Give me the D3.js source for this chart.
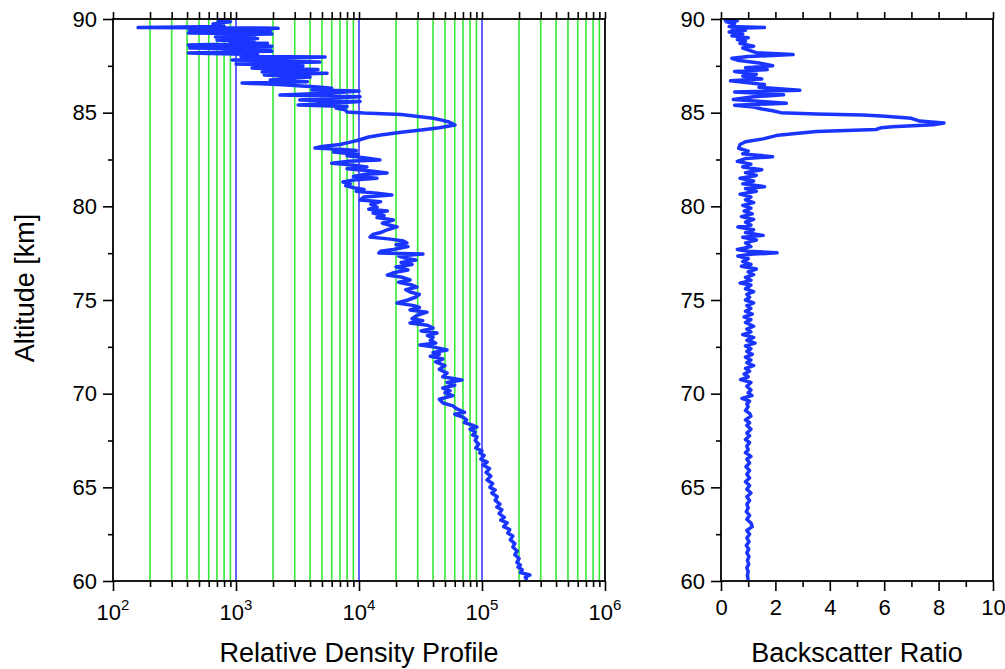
<!DOCTYPE html>
<html>
<head>
<meta charset="utf-8">
<script src="https://cdn.jsdelivr.net/npm/d3@7"></script>
<style>
  body { margin: 0; background: #fff; }
  text { font-family: "Liberation Sans", Arial, sans-serif; fill: #000; }
</style>
</head>
<body>
<svg id="svg1" width="1005" height="669"></svg>
<script>
// density profile (altitude in km, relative density)
const densityAlt = [89.95, 89.85, 89.73, 89.6, 89.54, 89.52, 89.5, 89.45, 89.41, 89.36, 89.32, 89.25, 89.2, 89.15, 89.08, 89.04, 88.96, 88.88, 88.8, 88.77, 88.7, 88.61, 88.55, 88.45, 88.4, 88.35, 88.28, 88.19, 88.1, 88.0, 87.97, 87.9, 87.81, 87.7, 87.6, 87.5, 87.38, 87.3, 87.17, 87.1, 87.01, 86.9, 86.74, 86.65, 86.58, 86.5, 86.37, 86.3, 86.21, 86.15, 86.05, 85.94, 85.85, 85.75, 85.68, 85.6, 85.5, 85.41, 85.33, 85.25, 85.15, 85.04, 84.98, 84.9, 84.82, 84.7, 84.6, 84.5, 84.34, 84.2, 84.07, 83.95, 83.81, 83.7, 83.54, 83.43, 83.3, 83.2, 83.11, 83.05, 82.98, 82.9, 82.85, 82.78, 82.7, 82.6, 82.47, 82.4, 82.3, 82.2, 82.1, 82.0, 81.9, 81.78, 81.7, 81.6, 81.5, 81.41, 81.3, 81.2, 81.1, 80.98, 80.9, 80.8, 80.7, 80.6, 80.5, 80.34, 80.25, 80.1, 79.96, 79.85, 79.75, 79.64, 79.5, 79.4, 79.27, 79.1, 78.9, 78.75, 78.6, 78.5, 78.36, 78.25, 78.15, 78.04, 77.95, 77.85, 77.7, 77.6, 77.51, 77.45, 77.35, 77.2, 77.13, 77.0, 76.9, 76.76, 76.6, 76.45, 76.33, 76.2, 76.07, 75.95, 75.8, 75.69, 75.55, 75.43, 75.3, 75.16, 75.0, 74.84, 74.7, 74.6, 74.47, 74.35, 74.2, 74.0, 73.9, 73.77, 73.65, 73.5, 73.35, 73.24, 73.1, 73.0, 72.85, 72.7, 72.6, 72.5, 72.33, 72.2, 72.1, 72.0, 71.85, 71.7, 71.64, 71.5, 71.3, 71.1, 70.9, 70.73, 70.6, 70.45, 70.3, 70.15, 70.04, 69.9, 69.7, 69.5, 69.35, 69.2, 69.0, 68.9, 68.75, 68.6, 68.45, 68.3, 68.22, 68.1, 67.95, 67.8, 67.69, 67.5, 67.3, 67.1, 66.95, 66.83, 66.7, 66.5, 66.35, 66.19, 66.0, 65.8, 65.6, 65.39, 65.2, 65.0, 64.86, 64.7, 64.5, 64.3, 64.1, 63.95, 63.8, 63.6, 63.4, 63.25, 63.1, 62.9, 62.75, 62.56, 62.4, 62.2, 62.0, 61.82, 61.6, 61.4, 61.2, 61.0, 60.85, 60.75, 60.6, 60.45, 60.32, 60.2, 60.05];
const densityVal = [700, 900, 650, 800, 160, 1500, 2200, 1200, 420, 1900, 1000, 410, 1960, 800, 1400, 680, 1500, 700, 1400, 900, 1800, 410, 1960, 420, 1900, 800, 1960, 410, 1500, 1100, 5300, 2500, 930, 4800, 1000, 3500, 1350, 4640, 1630, 5500, 1700, 4000, 1900, 3800, 1120, 2200, 4640, 6000, 4150, 10000, 6000, 2280, 10200, 5000, 3300, 10200, 6000, 3200, 8000, 6500, 7700, 8000, 11000, 22000, 28000, 40000, 47000, 54000, 60300, 45000, 32000, 22000, 15000, 12000, 10000, 8500, 7000, 5000, 4390, 7000, 9500, 6200, 7500, 9800, 8000, 11000, 14800, 8000, 6000, 9000, 11600, 8000, 12000, 16900, 11000, 9000, 14000, 9000, 7400, 8500, 7800, 9300, 11000, 9500, 14000, 18500, 11000, 10200, 15000, 12500, 14000, 12000, 17000, 13000, 16000, 14000, 19000, 15500, 20400, 17000, 15000, 13000, 12300, 18000, 23000, 24500, 20000, 25000, 19000, 15000, 14500, 33100, 21000, 25000, 29000, 22000, 27000, 20000, 25000, 19000, 17000, 23000, 26000, 21000, 27000, 29600, 24000, 26000, 31000, 29000, 25000, 20400, 28000, 31000, 26000, 35700, 30000, 27000, 33000, 26000, 36000, 40000, 32000, 43100, 36000, 40000, 38000, 42000, 31300, 40000, 51900, 40000, 45000, 38000, 48000, 42000, 44000, 50000, 45000, 52000, 48000, 68700, 52000, 60000, 48000, 55000, 50000, 58000, 45000, 48200, 58000, 62000, 72000, 60000, 70000, 75000, 72000, 85000, 91000, 80000, 88000, 84000, 91000, 88000, 94000, 89000, 100000, 96000, 104000, 98000, 110000, 102000, 115000, 108000, 118000, 110000, 122000, 116000, 128000, 120000, 133000, 128000, 140000, 132000, 145000, 138000, 152000, 142000, 160000, 150000, 168000, 162000, 178000, 170000, 185000, 178000, 193000, 185000, 200000, 192000, 205000, 196000, 212000, 205000, 245000, 225000, 232000];

// backscatter ratio
const ratioAlt = [89.95, 89.9, 89.85, 89.75, 89.6, 89.55, 89.5, 89.4, 89.3, 89.2, 89.1, 89.0, 88.9, 88.8, 88.7, 88.55, 88.45, 88.3, 88.2, 88.1, 88.0, 87.9, 87.8, 87.65, 87.5, 87.4, 87.3, 87.2, 87.05, 86.95, 86.8, 86.7, 86.6, 86.5, 86.35, 86.2, 86.1, 86.0, 85.95, 85.85, 85.7, 85.6, 85.5, 85.4, 85.3, 85.2, 85.1, 85.0, 84.93, 84.88, 84.82, 84.7, 84.55, 84.45, 84.35, 84.25, 84.2, 84.1, 84.0, 83.8, 83.6, 83.45, 83.3, 83.1, 82.95, 82.8, 82.65, 82.55, 82.4, 82.25, 82.1, 81.95, 81.8, 81.65, 81.5, 81.35, 81.2, 81.05, 80.95, 80.8, 80.65, 80.5, 80.35, 80.2, 80.05, 79.9, 79.75, 79.6, 79.45, 79.3, 79.15, 79.0, 78.9, 78.75, 78.6, 78.45, 78.35, 78.2, 78.05, 77.85, 77.7, 77.6, 77.52, 77.45, 77.35, 77.2, 77.05, 76.9, 76.8, 76.65, 76.5, 76.35, 76.2, 76.05, 75.9, 75.8, 75.6, 75.45, 75.3, 75.15, 75.0, 74.85, 74.7, 74.55, 74.4, 74.25, 74.1, 73.95, 73.8, 73.6, 73.45, 73.3, 73.15, 73.0, 72.85, 72.7, 72.55, 72.4, 72.25, 72.1, 71.95, 71.8, 71.65, 71.5, 71.35, 71.2, 71.05, 70.9, 70.75, 70.6, 70.4, 70.2, 70.05, 69.9, 69.75, 69.6, 69.45, 69.3, 69.1, 68.95, 68.8, 68.6, 68.45, 68.3, 68.1, 67.9, 67.75, 67.55, 67.4, 67.2, 67.0, 66.85, 66.65, 66.5, 66.3, 66.1, 65.9, 65.7, 65.5, 65.3, 65.1, 64.9, 64.7, 64.5, 64.3, 64.1, 63.9, 63.7, 63.5, 63.3, 63.1, 62.9, 62.7, 62.5, 62.3, 62.1, 61.9, 61.7, 61.5, 61.3, 61.1, 60.9, 60.7, 60.5, 60.3, 60.05];
const ratioVal = [0.1, 0.6, 0.2, 0.5, 0.3, 1.6, 0.4, 0.9, 0.3, 0.8, 0.4, 1.0, 0.6, 0.9, 0.7, 1.2, 0.8, 1.1, 1.3, 2.65, 1.0, 0.4, 0.6, 1.4, 1.9, 0.9, 1.7, 0.5, 1.3, 0.8, 1.5, 0.35, 1.0, 1.6, 1.4, 2.9, 0.5, 1.8, 2.3, 1.2, 0.45, 1.5, 2.4, 0.5, 1.2, 1.5, 1.9, 2.2, 3.5, 5.2, 5.9, 7.0, 7.3, 8.2, 7.8, 6.3, 5.9, 5.7, 3.5, 2.1, 1.55, 0.9, 0.7, 0.65, 1.0, 0.8, 1.9, 0.9, 0.6, 1.1, 0.8, 1.5, 0.9, 1.3, 0.7, 1.2, 0.8, 1.6, 0.9, 1.3, 0.7, 1.1, 0.9, 1.2, 0.8, 1.1, 0.85, 1.15, 0.75, 1.2, 0.9, 1.1, 0.62, 1.2, 0.9, 1.55, 0.8, 1.3, 0.9, 1.1, 0.6, 1.0, 2.06, 1.2, 0.62, 1.0, 0.8, 1.1, 0.75, 1.3, 1.0, 1.2, 0.9, 1.1, 0.7, 1.1, 0.9, 1.2, 0.95, 1.05, 0.9, 1.2, 0.95, 1.1, 0.9, 1.15, 0.85, 1.1, 0.9, 1.2, 0.95, 1.1, 0.8, 1.2, 0.95, 1.25, 0.9, 1.1, 0.95, 1.15, 0.9, 1.1, 0.95, 1.2, 0.9, 1.05, 0.85, 1.0, 0.72, 1.1, 0.95, 1.1, 1.0, 1.14, 0.77, 1.05, 0.95, 1.0, 0.9, 1.05, 1.1, 0.9, 1.05, 0.95, 1.1, 0.95, 1.05, 0.9, 1.05, 0.95, 1.0, 0.9, 1.1, 0.95, 1.05, 0.92, 1.05, 0.95, 1.05, 0.9, 1.05, 0.95, 1.1, 0.95, 1.05, 0.95, 1.0, 0.93, 1.05, 0.95, 1.1, 1.15, 0.95, 1.05, 0.95, 1.03, 0.93, 1.02, 0.95, 1.03, 0.97, 1.02, 0.95, 1.0, 0.97, 1.0];

const altTicks = [60, 65, 70, 75, 80, 85, 90];
const altMinor = [62.5, 67.5, 72.5, 77.5, 82.5, 87.5];
const decades = [2, 3, 4, 5, 6];
const ratioTicks = [0, 2, 4, 6, 8, 10];
const ratioMinor = [1, 3, 5, 7, 9];

const svg1 = d3.select('#svg1');
const plotTop = 19, plotBottom = 581;
const lineColour = '#1a35ff';
const fontTick = 22, fontTitle = 27;

const yScale = d3.scaleLinear().domain([60, 90]).range([plotBottom, plotTop]);
const xDen = d3.scaleLog().domain([1e2, 1e6]).range([113, 605]);
const xRat = d3.scaleLinear().domain([0, 10]).range([721, 993]);

// minor log ticks 2..9 of each decade
const logMinor = [];
decades.slice(0, -1).forEach(e => {
  for (let m = 2; m <= 9; m++) logMinor.push(m * Math.pow(10, e));
});
const logMajor = decades.map(e => Math.pow(10, e));

// ---- left panel ----
const gL = svg1.append('g');

gL.selectAll('.gminor').data(logMinor)
  .enter().append('line')
    .attr('x1', d => xDen(d)).attr('x2', d => xDen(d))
    .attr('y1', plotTop).attr('y2', plotBottom)
    .attr('stroke', '#33e833').attr('stroke-width', 1.6);

gL.selectAll('.gmajor').data(logMajor.slice(1, -1))
  .enter().append('line')
    .attr('x1', d => xDen(d)).attr('x2', d => xDen(d))
    .attr('y1', plotTop).attr('y2', plotBottom)
    .attr('stroke', '#3a3aff').attr('stroke-width', 1.6);

const densLine = d3.line()
  .x(d => xDen(d[1]))
  .y(d => yScale(d[0]));

gL.append('path')
  .attr('d', densLine(d3.zip(densityAlt, densityVal)))
  .attr('fill', 'none')
  .attr('stroke', lineColour)
  .attr('stroke-width', 3.5)
  .attr('stroke-linejoin', 'round');

const styleAxis = g => {
  g.selectAll('.domain').remove();
  g.selectAll('line').attr('stroke', '#000').attr('stroke-width', 1.6);
  g.selectAll('text').style('font-size', fontTick + 'px')
    .style('font-family', '"Liberation Sans", Arial, sans-serif');
};

// bottom axis: majors with labels, minors
gL.append('g').attr('transform', `translate(0,${plotBottom})`)
  .call(d3.axisBottom(xDen).tickValues(logMajor).tickSize(10).tickFormat(''))
  .call(styleAxis);
gL.append('g').attr('transform', `translate(0,${plotBottom})`)
  .call(d3.axisBottom(xDen).tickValues(logMinor).tickSize(6).tickFormat(''))
  .call(styleAxis);

const lbl = gL.selectAll('.xlbl').data(decades)
  .enter().append('text')
    .attr('x', d => xDen(Math.pow(10, d)))
    .attr('y', 620)
    .attr('text-anchor', 'middle')
    .style('font-size', fontTick + 'px');
lbl.append('tspan').text('10');
lbl.append('tspan').attr('dy', -10).style('font-size', '15px').text(d => d);

// top axis ticks (outward)
gL.append('g').attr('transform', `translate(0,${plotTop})`)
  .call(d3.axisTop(xDen).tickValues(logMajor.concat(logMinor)).tickSize(7).tickFormat(''))
  .call(styleAxis);

// left axis
gL.append('g').attr('transform', 'translate(113,0)')
  .call(d3.axisLeft(yScale).tickValues(altTicks).tickSize(10).tickPadding(6))
  .call(styleAxis);
gL.append('g').attr('transform', 'translate(113,0)')
  .call(d3.axisLeft(yScale).tickValues(altMinor).tickSize(5).tickFormat(''))
  .call(styleAxis);

gL.append('rect')
  .attr('x', 113).attr('y', plotTop)
  .attr('width', 605 - 113).attr('height', plotBottom - plotTop)
  .attr('fill', 'none').attr('stroke', '#000').attr('stroke-width', 1.8);

gL.append('text')
  .attr('transform', 'rotate(-90)')
  .attr('x', -288).attr('y', 34)
  .attr('text-anchor', 'middle')
  .style('font-size', fontTitle + 'px')
  .text('Altitude [km]');

gL.append('text')
  .attr('x', 359).attr('y', 662)
  .attr('text-anchor', 'middle')
  .style('font-size', fontTitle + 'px')
  .text('Relative Density Profile');

// ---- right panel ----
const gR = svg1.append('g');

const ratioLine = d3.line()
  .x(d => xRat(d[1]))
  .y(d => yScale(d[0]));

gR.append('path')
  .attr('d', ratioLine(d3.zip(ratioAlt, ratioVal)))
  .attr('fill', 'none')
  .attr('stroke', lineColour)
  .attr('stroke-width', 3.5)
  .attr('stroke-linejoin', 'round');

gR.append('g').attr('transform', `translate(0,${plotBottom})`)
  .call(d3.axisBottom(xRat).tickValues(ratioTicks).tickSize(10).tickPadding(8))
  .call(styleAxis);
gR.append('g').attr('transform', `translate(0,${plotBottom})`)
  .call(d3.axisBottom(xRat).tickValues(ratioMinor).tickSize(6).tickFormat(''))
  .call(styleAxis);
gR.append('g').attr('transform', `translate(0,${plotTop})`)
  .call(d3.axisTop(xRat).tickValues(ratioTicks.concat(ratioMinor)).tickSize(7).tickFormat(''))
  .call(styleAxis);

gR.append('g').attr('transform', 'translate(721,0)')
  .call(d3.axisLeft(yScale).tickValues(altTicks).tickSize(10).tickPadding(6))
  .call(styleAxis);
gR.append('g').attr('transform', 'translate(721,0)')
  .call(d3.axisLeft(yScale).tickValues(altMinor).tickSize(5).tickFormat(''))
  .call(styleAxis);

gR.append('rect')
  .attr('x', 721).attr('y', plotTop)
  .attr('width', 993 - 721).attr('height', plotBottom - plotTop)
  .attr('fill', 'none').attr('stroke', '#000').attr('stroke-width', 1.8);

gR.append('text')
  .attr('x', 857).attr('y', 662)
  .attr('text-anchor', 'middle')
  .style('font-size', fontTitle + 'px')
  .text('Backscatter Ratio');
</script>
</body>
</html>
